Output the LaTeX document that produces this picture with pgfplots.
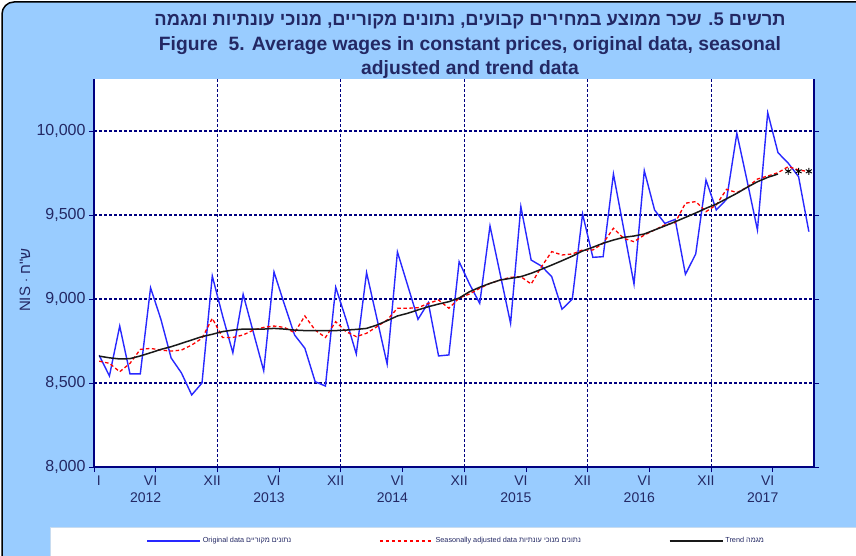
\documentclass[border=0pt]{standalone}
\usepackage{fontspec}
\setmainfont{Liberation Sans}
\newfontfamily\heb[Script=Hebrew]{Liberation Sans}
\TeXXeTstate=1
\usepackage{pgfplots}
\usepackage{pgfplotstable}
\pgfplotsset{compat=1.18}

\definecolor{chartbg}{RGB}{153,204,255}
\definecolor{navy}{RGB}{0,0,128}
\definecolor{txt}{RGB}{35,40,100}
\definecolor{origblue}{RGB}{40,40,255}

% month index (0 = Jan 2012), original, seasonally adjusted, trend, provisional trend
\pgfplotstableread{
m orig sa trend star
0 8665 8630 8660 nan
1 8542 8617 8650 nan
2 8839 8567 8643 nan
3 8554 8617 8645 nan
4 8554 8700 8661 nan
5 9067 8706 8680 nan
6 8880 8696 8700 nan
7 8649 8690 8716 nan
8 8560 8696 8736 nan
9 8429 8726 8756 nan
10 8500 8766 8776 nan
11 9137 8885 8790 nan
12 8900 8771 8806 nan
13 8680 8771 8815 nan
14 9028 8786 8821 nan
15 8800 8815 8821 nan
16 8573 8831 8821 nan
17 9161 8839 8825 nan
18 8970 8831 8821 nan
19 8786 8800 8815 nan
20 8707 8899 8812 nan
21 8508 8815 8812 nan
22 8482 8771 8812 nan
23 9070 8865 8812 nan
24 8880 8806 8815 nan
25 8673 8776 8819 nan
26 9157 8796 8825 nan
27 8885 8835 8845 nan
28 8613 8875 8871 nan
29 9280 8945 8899 nan
30 9080 8945 8915 nan
31 8879 8948 8935 nan
32 8978 8974 8954 nan
33 8661 8994 8970 nan
34 8667 8945 8984 nan
35 9222 9005 9006 nan
36 9090 9030 9043 nan
37 8974 9064 9070 nan
38 9435 9093 9093 nan
39 9145 9113 9113 nan
40 8855 9129 9123 nan
41 9550 9133 9133 nan
42 9232 9089 9153 nan
43 9196 9192 9177 nan
44 9133 9282 9202 nan
45 8939 9262 9228 nan
46 9000 9268 9255 nan
47 9506 9292 9286 nan
48 9248 9292 9308 nan
49 9252 9332 9332 nan
50 9744 9421 9351 nan
51 9417 9361 9367 nan
52 9089 9341 9375 nan
53 9764 9381 9387 nan
54 9530 9411 9411 nan
55 9450 9441 9435 nan
56 9474 9454 9460 nan
57 9147 9570 9486 nan
58 9268 9580 9512 nan
59 9708 9520 9540 nan
60 9530 9560 9565 nan
61 9593 9653 9597 nan
62 9986 9633 9629 nan
63 9702 9665 9665 nan
64 9411 9714 9698 nan
65 10109 9732 9724 nan
66 9871 9752 9744 nan
67 9808 9788 nan 9760
68 9728 9768 nan 9760
69 9401 9758 nan 9760
}\wages

\begin{document}
\begin{tikzpicture}[x=1pt,y=1pt]
\useasboundingbox (0,0) rectangle (856,555);
\clip (0,0) rectangle (856,555);
\fill[white] (0,0) rectangle (856,555);
\draw[line width=1.5pt, fill=chartbg, rounded corners=12pt] (2,-30) rectangle (900,553);
\draw[fill=white, draw={rgb,255:red,200;green,220;blue,240}, line width=0.6pt] (50,-10) rectangle (900,28);

\begin{axis}[
  name=ax,
  at={(94pt,88pt)}, anchor=south west,
  scale only axis, width=720pt, height=420pt,
  xmin=0, xmax=70, ymin=8000, ymax=10500,
  axis background/.style={fill=white},
  axis line style={navy, line width=1.3pt},
  tick style={navy, line width=1pt},
  tick align=outside, major tick length=5pt,
  xtick={0,6,...,66},
  xticklabels={\hspace*{20pt}I, VI\\\hspace*{-10pt}2012, XII, VI\\\hspace*{-10pt}2013, XII, VI\\\hspace*{-10pt}2014, XII, VI\\\hspace*{-10pt}2015, XII, VI\\\hspace*{-10pt}2016, XII, VI\\\hspace*{-10pt}2017},
  xticklabel style={align=center, xshift=-5.14pt, font=\fontsize{14}{17}\selectfont, text=txt},
  extra x ticks={12,24,36,48,60},
  extra x tick labels={},
  extra x tick style={grid=major},
  ytick={8000,8500,...,10000},
  scaled y ticks=false,
  ymajorgrids,
  major grid style={navy, line width=1.1pt, dash pattern=on 3pt off 2pt},
  yticklabel style={font=\fontsize{16}{19}\selectfont, text=txt},
  /pgf/number format/.cd, 1000 sep={,}, assume math mode=true, /pgfplots/.cd,
  ylabel={NIS $\cdot$ {\heb\beginR ש"ח\endR}},
  ylabel style={at={(axis description cs:-0.096,0.445)}, anchor=center, font=\fontsize{15}{18}\selectfont, text=txt},
  legend style={at={(axis description cs:0.503,-0.176)}, anchor=center, draw=none, fill=none,
    font=\fontsize{7.3}{9}\selectfont, text=txt,
    /tikz/every even column/.append style={column sep=86pt}},
  legend columns=3,
  legend image code/.code={\draw[#1] (0pt,0pt) -- (53pt,0pt);},
]
\addplot[origblue, line width=1.4pt] table[x expr=\thisrow{m}+0.5, y=orig] {\wages};
\addlegendentry{Original data {\heb\beginR נתונים מקוריים\endR}}
\addplot[red, line width=1.3pt, dash pattern=on 3.5pt off 2.5pt] table[x expr=\thisrow{m}+0.5, y=sa] {\wages};
\addlegendentry{Seasonally adjusted data {\heb\beginR נתונים מנוכי עונתיות\endR}}
\addplot[black!90, line width=1.5pt] table[x expr=\thisrow{m}+0.5, y=trend] {\wages};
\addlegendentry{Trend {\heb\beginR מגמה\endR}}
\addplot[forget plot, only marks, mark=asterisk, mark size=3.5pt, black, line width=0.9pt] table[x expr=\thisrow{m}+0.5, y=star] {\wages};
\end{axis}

\fill[chartbg] (89,476) rectangle (820,516);
\node[align=center, text=txt, font=\fontsize{19.3}{24.5}\selectfont\bfseries] at (470,509)
  {{\fontsize{18.3}{24.5}\selectfont\heb\beginR תרשים 5. שכר ממוצע במחירים קבועים, נתונים מקוריים, מנוכי עונתיות ומגמה\endR}\\
   Figure\ \ 5. Average wages in constant prices, original data, seasonal\\
   adjusted and trend data};
\end{tikzpicture}
\end{document}
